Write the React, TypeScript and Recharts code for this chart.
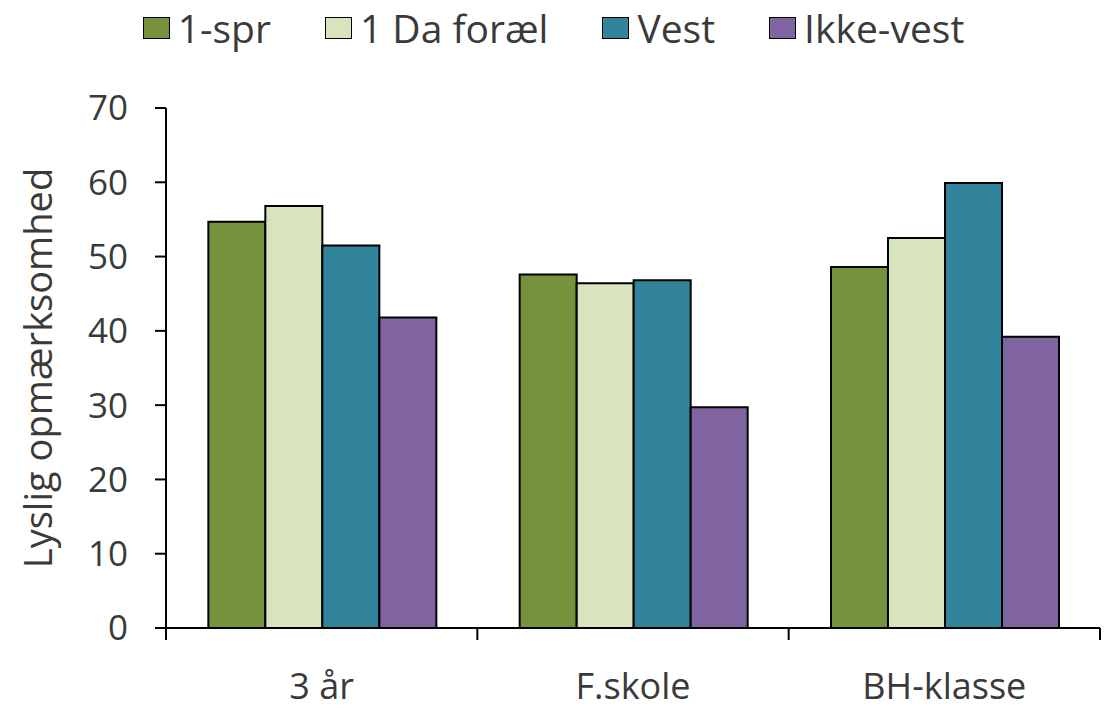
import React from 'react';
import { BarChart, Bar, XAxis, YAxis, Legend } from 'recharts';

// ---------- Data ----------
const categories = ['3 år', 'F.skole', 'BH-klasse'];
const enSprog = [54.7, 47.6, 48.6];
const daForael = [56.8, 46.4, 52.5];
const vest = [51.5, 46.8, 59.9];
const ikkeVest = [41.8, 29.7, 39.2];
const yTicks = [0, 10, 20, 30, 40, 50, 60, 70];

const series = [
  { key: 'spr', name: '1-spr', color: '#77923C', values: enSprog },
  { key: 'da', name: '1 Da foræl', color: '#D7E4BD', values: daForael },
  { key: 'vest', name: 'Vest', color: '#31849B', values: vest },
  { key: 'ikke', name: 'Ikke-vest', color: '#8064A2', values: ikkeVest },
];

const data = categories.map((cat, i) => {
  const row: Record<string, string | number> = { cat };
  series.forEach((s) => (row[s.key] = s.values[i]));
  return row;
});

// ---------- Layout ----------
const W = 1107;
const H = 721;
const MARGIN = { top: 108, right: 7, bottom: 0, left: 0 };
const Y_AXIS_W = 166;
const X_AXIS_H = 93;
const PLOT_W = W - MARGIN.left - MARGIN.right - Y_AXIS_W;
const BAND = PLOT_W / categories.length;
const FONT = '"Open Sans", sans-serif';
const TEXT = '#3a3a3a';

function CategoryTick(props: any) {
  const { x, y, payload, index } = props;
  const half = BAND / 2;
  return (
    <g>
      <line x1={x - half} x2={x - half} y1={y} y2={y + 12} stroke="#000" strokeWidth={2} />
      {index === categories.length - 1 && (
        <line x1={x + half} x2={x + half} y1={y} y2={y + 12} stroke="#000" strokeWidth={2} />
      )}
      <text x={x} y={y + 71} textAnchor="middle" fontSize={36} fontFamily={FONT} fill={TEXT}>
        {payload.value}
      </text>
    </g>
  );
}

function YLabel(props: any) {
  const { viewBox } = props;
  const cx = 37;
  const cy = viewBox.y + viewBox.height / 2;
  return (
    <text
      x={cx}
      y={cy}
      transform={`rotate(-90, ${cx}, ${cy})`}
      textAnchor="middle"
      dominantBaseline="central"
      fontSize={38}
      fontFamily={FONT}
      fill={TEXT}
    >
      Lyslig opmærksomhed
    </text>
  );
}

function LegendContent() {
  return (
    <div style={{ display: 'flex', justifyContent: 'center', gap: 54, fontFamily: FONT }}>
      {series.map((s) => (
        <div key={s.key} style={{ display: 'flex', alignItems: 'center', gap: 8 }}>
          <span
            style={{
              width: 25,
              height: 20,
              background: s.color,
              border: '1.5px solid #000',
              display: 'inline-block',
            }}
          />
          <span style={{ fontSize: 39, lineHeight: '54px', color: TEXT }}>{s.name}</span>
        </div>
      ))}
    </div>
  );
}

export default function App() {
  return (
    <div style={{ position: 'absolute', left: 0, top: 0, width: W, height: H, background: '#fff' }}>
      <BarChart width={W} height={H} data={data} margin={MARGIN} barCategoryGap="13.6%" barGap={0}>
        <XAxis
          dataKey="cat"
          height={X_AXIS_H}
          axisLine={{ stroke: '#000', strokeWidth: 2 }}
          tickLine={false}
          tickSize={0}
          tickMargin={0}
          tick={<CategoryTick />}
          interval={0}
        />
        <XAxis
          xAxisId="top"
          dataKey="cat"
          orientation="top"
          height={0}
          axisLine={{ stroke: '#000', strokeWidth: 2 }}
          tick={false}
          tickLine={false}
        />
        <YAxis
          width={Y_AXIS_W}
          domain={[0, 70]}
          ticks={yTicks}
          interval={0}
          axisLine={{ stroke: '#000', strokeWidth: 2 }}
          tickLine={{ stroke: '#000', strokeWidth: 2 }}
          tickSize={11}
          tickMargin={27}
          tick={{ fontSize: 35, fontFamily: FONT, fill: TEXT }}
          label={<YLabel />}
        />
        <YAxis
          yAxisId="right"
          orientation="right"
          width={0}
          domain={[0, 70]}
          axisLine={{ stroke: '#000', strokeWidth: 2 }}
          tick={false}
          tickLine={false}
        />
        <Legend
          verticalAlign="middle"
          wrapperStyle={{ top: 1, left: 0, width: W }}
          content={<LegendContent />}
        />
        {series.map((s) => (
          <Bar
            key={s.key}
            dataKey={s.key}
            name={s.name}
            fill={s.color}
            stroke="#000"
            strokeWidth={2}
            isAnimationActive={false}
          />
        ))}
      </BarChart>
    </div>
  );
}
